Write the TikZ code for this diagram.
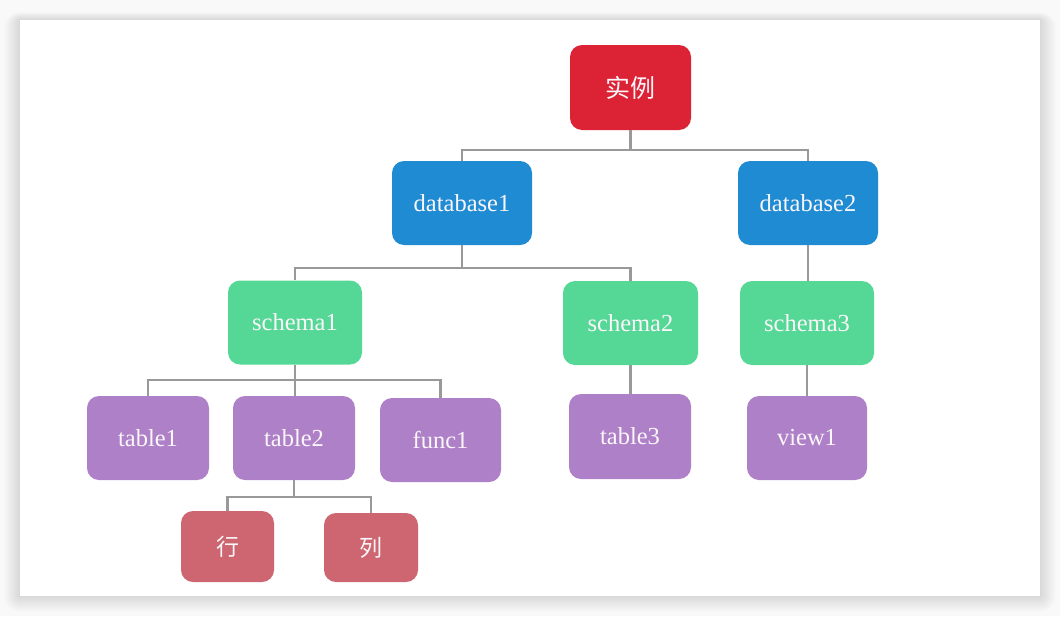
\documentclass[tikz,border=0pt]{standalone}
\usepackage{fontspec}
\setmainfont{Liberation Serif}
\newfontfamily\cjk{Noto Sans CJK SC}
\definecolor{bgout}{HTML}{F9F9F9}
\definecolor{cinst}{HTML}{DC2335}
\definecolor{cdb}{HTML}{1F8BD2}
\definecolor{csch}{HTML}{55D896}
\definecolor{cobj}{HTML}{AE80C8}
\definecolor{crc}{HTML}{CD6670}
\definecolor{cline}{HTML}{999999}
\definecolor{ctext}{HTML}{FBF6FA}
\tikzset{
  box/.style={rounded corners=12pt, draw=none, text=ctext, inner sep=0pt,
    font=\fontsize{24.5}{28}\selectfont},
  inst/.style={box, fill=cinst, font=\cjk\fontsize{25}{28}\selectfont},
  dbbox/.style={box, fill=cdb},
  schbox/.style={box, fill=csch},
  objbox/.style={box, fill=cobj},
  rcbox/.style={box, fill=crc, font=\cjk\fontsize{23}{26}\selectfont},
  link/.style={draw=cline, line width=2.6pt, line join=miter},
  shadowlayer/.style={fill=black, opacity=0.006, rounded corners=#1}
}
\begin{document}
\begin{tikzpicture}[x=1pt,y=-1pt]
\useasboundingbox (0,0) rectangle (1060,616);
\fill[bgout] (0,0) rectangle (1060,616);
\foreach \s in {1,2,...,16} {
  \fill[shadowlayer=\s pt] (20-\s,20-\s*0.5) rectangle (1040+\s,596+\s);
}
\fill[white] (20,20) rectangle (1040,596);

\node[inst, minimum width=121pt, minimum height=85pt] (i) at (630.5,87.5) {实例};
\node[dbbox, minimum width=140pt, minimum height=84pt] (d1) at (462,203) {database1};
\node[dbbox, minimum width=140pt, minimum height=84pt] (d2) at (808,203) {database2};
\node[schbox, minimum width=134pt, minimum height=84pt] (s1) at (295,322.5) {schema1};
\node[schbox, minimum width=135pt, minimum height=84pt] (s2) at (630.5,323) {schema2};
\node[schbox, minimum width=134pt, minimum height=84pt] (s3) at (807,323) {schema3};
\node[objbox, minimum width=122pt, minimum height=84pt] (t1) at (148,438) {table1};
\node[objbox, minimum width=122pt, minimum height=84pt] (t2) at (294,438) {table2};
\node[objbox, minimum width=121pt, minimum height=84pt] (f1) at (440.5,440) {func1};
\node[objbox, minimum width=122pt, minimum height=85pt] (t3) at (630,436.5) {table3};
\node[objbox, minimum width=120pt, minimum height=84pt] (v1) at (807,438) {view1};
\node[rcbox, minimum width=93pt, minimum height=71pt] (r) at (227.5,546.5) {行};
\node[rcbox, minimum width=94pt, minimum height=69pt] (c) at (371,547.5) {列};

\coordinate (b0) at (0,150);
\coordinate (b1) at (0,268);
\coordinate (b2) at (0,380);
\coordinate (b3) at (0,497);

\draw[link] (i.south) -- (i.south |- b0) -| (d1.north);
\draw[link] (i.south |- b0) -| (d2.north);
\draw[link] (d1.south) -- (d1.south |- b1) -| (s1.north);
\draw[link] (d1.south |- b1) -| (s2.north);
\draw[link] (d2.south) -- (d2.south |- s3.north);
\draw[link] (s1.south) -- (s1.south |- b2) -| (t1.north);
\draw[link] (s1.south |- b2) -| (f1.north);
\draw[link] (s1.south |- b2) -- (s1.south |- t2.north);
\draw[link] (s2.south) -- (s2.south |- t3.north);
\draw[link] (s3.south) -- (s3.south |- v1.north);
\draw[link] (t2.south) -- (t2.south |- b3) -| (r.north);
\draw[link] (t2.south |- b3) -| (c.north);
\end{tikzpicture}
\end{document}
